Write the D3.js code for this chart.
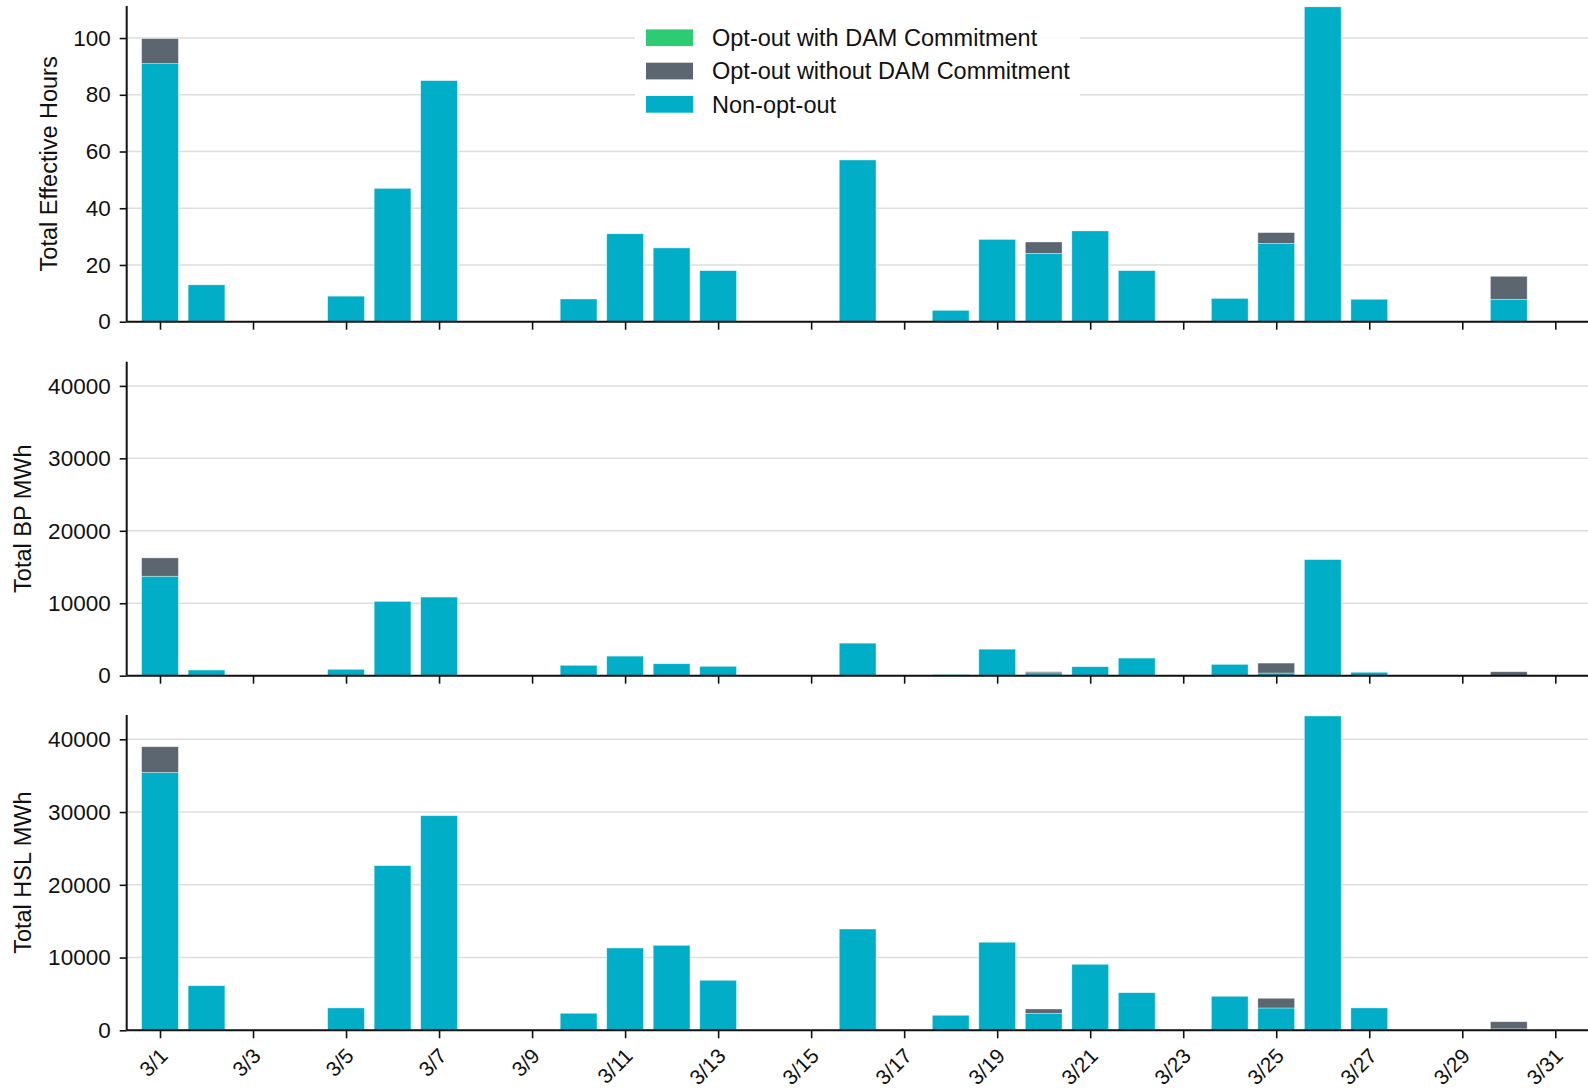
<!DOCTYPE html>
<html>
<head>
<meta charset="utf-8">
<script src="https://cdn.jsdelivr.net/npm/d3@7/dist/d3.min.js"></script>
<style>
  body { margin: 0; background: #fff; }
  svg { display: block; font-family: "Liberation Sans", Arial, sans-serif; }
</style>
</head>
<body>
<svg id="chart" width="1588" height="1091"></svg>
<script>
// days of March
var days = [1, 2, 3, 4, 5, 6, 7, 8, 9, 10, 11, 12, 13, 14, 15, 16,
            17, 18, 19, 20, 21, 22, 23, 24, 25, 26, 27, 28, 29, 30, 31];
var tickDays = [1, 3, 5, 7, 9, 11, 13, 15, 17, 19, 21, 23, 25, 27, 29, 31];
var tickLabels = ["3/1", "3/3", "3/5", "3/7", "3/9", "3/11", "3/13", "3/15",
                  "3/17", "3/19", "3/21", "3/23", "3/25", "3/27", "3/29", "3/31"];

var seriesNames = ["Opt-out with DAM Commitment", "Opt-out without DAM Commitment", "Non-opt-out"];
var seriesColors = ["#2ecc71", "#5b6670", "#00afc7"];

// Total Effective Hours
var hoursNonOpt = [91, 13, 0, 0, 9, 47, 85, 0, 0, 8, 31, 26, 18, 0, 0, 57,
                   0, 4, 29, 24.1, 32, 18, 0, 8.2, 27.6, 111, 7.9, 0, 0, 7.9, 0];
var hoursOptDam = [0, 0, 0, 0, 0, 0, 0, 0, 0, 0, 0, 0, 0, 0, 0, 0,
                   0, 0, 0, 0, 0, 0, 0, 0, 0, 0, 0, 0, 0, 0, 0];
var hoursOptNoDam = [8.8, 0, 0, 0, 0, 0, 0, 0, 0, 0, 0, 0, 0, 0, 0, 0,
                     0, 0, 0, 4, 0, 0, 0, 0, 3.8, 0, 0, 0, 0, 8.1, 0];
var hoursTicks = [0, 20, 40, 60, 80, 100];

// Total BP MWh
var bpNonOpt = [13730, 780, 0, 0, 880, 10250, 10850, 0, 0, 1430, 2700, 1650, 1290, 0, 0, 4490,
                0, 150, 3660, 400, 1240, 2430, 0, 1560, 370, 16020, 470, 0, 0, 30, 0];
var bpOptDam = [0, 0, 0, 0, 0, 0, 0, 0, 0, 0, 0, 0, 0, 0, 0, 0,
                0, 0, 0, 0, 0, 0, 0, 0, 0, 0, 0, 0, 0, 0, 0];
var bpOptNoDam = [2530, 0, 0, 0, 0, 0, 0, 0, 0, 0, 0, 0, 0, 0, 0, 0,
                  0, 0, 0, 150, 0, 0, 0, 0, 1370, 0, 0, 0, 0, 520, 0];

// Total HSL MWh
var hslNonOpt = [35460, 6130, 0, 0, 3070, 22630, 29500, 0, 0, 2340, 11310, 11680, 6870, 0, 0, 13920,
                 0, 2060, 12100, 2340, 9070, 5170, 0, 4670, 3070, 43200, 3070, 0, 0, 200, 0];
var hslOptDam = [0, 0, 0, 0, 0, 0, 0, 0, 0, 0, 0, 0, 0, 0, 0, 0,
                 0, 0, 0, 0, 0, 0, 0, 0, 0, 0, 0, 0, 0, 0, 0];
var hslOptNoDam = [3520, 0, 0, 0, 0, 0, 0, 0, 0, 0, 0, 0, 0, 0, 0, 0,
                   0, 0, 0, 590, 0, 0, 0, 0, 1330, 0, 0, 0, 0, 980, 0];
var mwhTicks = [0, 10000, 20000, 30000, 40000];

var svg = d3.select("#chart");
var axisLeft = 126.7;
var x = d3.scaleLinear().domain([0.284, 31.716]).range([axisLeft, 1588.6]);
var barW = x(0.79) - x(0);

var panels = [
  { label: "Total Effective Hours", top: 6, bottom: 321.7, max: 111.3, ticks: hoursTicks,
    stack: [hoursNonOpt, hoursOptDam, hoursOptNoDam], labelX: 57, xLabels: false },
  { label: "Total BP MWh", top: 361.7, bottom: 675.7, max: 43340, ticks: mwhTicks,
    stack: [bpNonOpt, bpOptDam, bpOptNoDam], labelX: 31, xLabels: false },
  { label: "Total HSL MWh", top: 715, bottom: 1030.3, max: 43340, ticks: mwhTicks,
    stack: [hslNonOpt, hslOptDam, hslOptNoDam], labelX: 31, xLabels: true }
];
// colour for each stacked layer, bottom first
var stackColors = [seriesColors[2], seriesColors[0], seriesColors[1]];

panels.forEach(function(p) {
  var y = d3.scaleLinear().domain([0, p.max]).range([p.bottom, p.top]);
  var g = svg.append("g");

  // grid
  g.append("g")
    .selectAll("line")
    .data(p.ticks)
    .join("line")
    .attr("x1", axisLeft)
    .attr("x2", 1588)
    .attr("y1", d => y(d))
    .attr("y2", d => y(d))
    .attr("stroke", "#dedede")
    .attr("stroke-width", 1.5);

  // stacked bars
  var rows = days.map(function(d, i) {
    return { day: d, a: p.stack[0][i], b: p.stack[1][i], c: p.stack[2][i] };
  });
  var layers = d3.stack().keys(["a", "b", "c"])(rows);
  g.append("g")
    .selectAll("g")
    .data(layers)
    .join("g")
    .attr("fill", (d, i) => stackColors[i])
    .selectAll("rect")
    .data(d => d.filter(s => s[1] - s[0] > 0))
    .join("rect")
    .attr("x", d => x(d.data.day) - barW / 2)
    .attr("width", barW)
    .attr("y", d => y(d[1]))
    .attr("height", d => y(d[0]) - y(d[1]))
    .attr("stroke", "#ffffff")
    .attr("stroke-opacity", 0.5)
    .attr("stroke-width", 0.7);

  // y axis
  var ya = g.append("g")
    .attr("transform", "translate(" + axisLeft + ",0)")
    .call(d3.axisLeft(y).tickValues(p.ticks).tickSize(7).tickPadding(9).tickFormat(d3.format("d")));
  ya.select(".domain").attr("d", "M0," + p.top + "V" + p.bottom).attr("stroke", "#111").attr("stroke-width", 2);
  ya.selectAll(".tick line").attr("stroke", "#111").attr("stroke-width", 1.6);
  ya.selectAll(".tick text").attr("font-size", 22.5).attr("fill", "#111")
    .attr("font-family", "Liberation Sans, Arial, sans-serif");

  // x axis
  var xa = g.append("g")
    .attr("transform", "translate(0," + p.bottom + ")")
    .call(d3.axisBottom(x).tickValues(tickDays).tickSize(8).tickFormat(""));
  xa.select(".domain").attr("d", "M" + axisLeft + ",0H1588").attr("stroke", "#111").attr("stroke-width", 2);
  xa.selectAll(".tick line").attr("stroke", "#111").attr("stroke-width", 1.6);

  if (p.xLabels) {
    g.append("g")
      .selectAll("text")
      .data(tickDays)
      .join("text")
      .attr("transform", (d) => "translate(" + (x(d) + 9) + "," + (p.bottom + 27) + ") rotate(-45)")
      .attr("text-anchor", "end")
      .attr("font-size", 21)
      .attr("fill", "#111")
      .text((d, i) => tickLabels[i]);
  }

  // axis title
  g.append("text")
    .attr("transform", "translate(" + p.labelX + "," + (p.top + p.bottom) / 2 + ") rotate(-90)")
    .attr("text-anchor", "middle")
    .attr("font-size", 23.5)
    .attr("fill", "#111")
    .text(p.label);
});

// legend
var legend = svg.append("g");
legend.append("rect")
  .attr("x", 635).attr("y", 18).attr("width", 445).attr("height", 104)
  .attr("fill", "#fff").attr("fill-opacity", 0.9);
var items = legend.selectAll("g.item")
  .data(seriesNames)
  .join("g")
  .attr("class", "item")
  .attr("transform", (d, i) => "translate(646," + (37.7 + i * 33.3) + ")");
items.append("rect")
  .attr("x", 0).attr("y", -8.3).attr("width", 47).attr("height", 16.7)
  .attr("fill", (d, i) => seriesColors[i]);
items.append("text")
  .attr("x", 66).attr("dy", "0.36em")
  .attr("font-size", 23.5)
  .attr("fill", "#111")
  .text(d => d);
</script>
</body>
</html>
